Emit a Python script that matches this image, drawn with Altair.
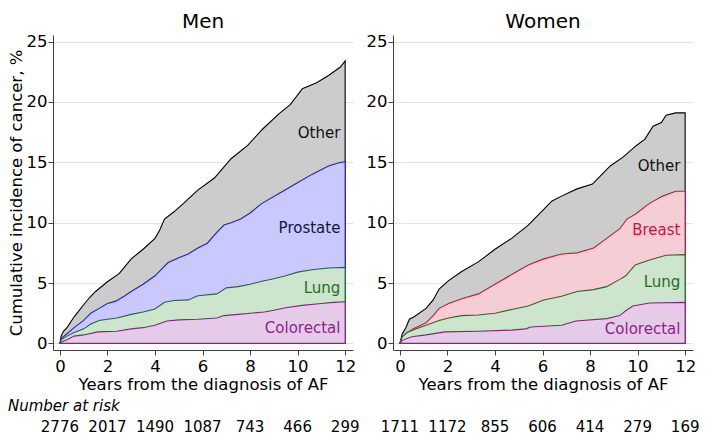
import altair as alt
import pandas as pd

F = "DejaVu Sans"

# ---------------- data (cumulative incidence, %; stacked upper boundaries) ----------------
men_other_t = [0, 0.05, 0.15, 0.3, 0.6, 1.0, 1.25, 1.5, 2.0, 2.5, 3.0, 3.5, 4.0, 4.2, 4.4, 4.8, 5.2, 5.8, 6.5, 7.2, 7.9, 8.5, 9.2, 9.7, 10.2, 10.8, 11.3, 11.8, 12.0]
men_other_v = [0, 0.6, 1.0, 1.3, 2.2, 3.2, 3.8, 4.3, 5.1, 5.8, 7.0, 7.8, 8.7, 9.4, 10.3, 10.9, 11.6, 12.7, 13.7, 15.3, 16.4, 17.7, 19.0, 19.8, 21.1, 21.6, 22.2, 22.9, 23.4]

men_prostate_t = [0, 0.05, 0.3, 0.6, 1.0, 1.3, 1.65, 2.0, 2.35, 2.7, 3.0, 3.5, 4.0, 4.3, 4.55, 5.0, 5.4, 5.8, 6.2, 6.6, 6.9, 7.2, 7.6, 8.0, 8.5, 9.2, 9.9, 10.6, 11.3, 11.7, 12.0]
men_prostate_v = [0, 0.4, 0.8, 1.3, 1.9, 2.5, 2.9, 3.3, 3.5, 3.9, 4.3, 4.9, 5.6, 6.2, 6.7, 7.1, 7.4, 7.9, 8.3, 9.2, 9.8, 10.0, 10.3, 10.8, 11.6, 12.4, 13.2, 14.0, 14.7, 14.95, 15.05]

men_lung_t = [0, 0.05, 0.3, 0.6, 1.0, 1.3, 1.65, 2.0, 2.4, 3.0, 3.5, 4.0, 4.4, 4.8, 5.4, 5.8, 6.6, 7.0, 7.5, 8.0, 8.5, 9.0, 9.5, 10.0, 10.6, 11.3, 12.0]
men_lung_v = [0, 0.3, 0.6, 0.9, 1.2, 1.6, 1.9, 2.0, 2.1, 2.4, 2.6, 2.85, 3.4, 3.55, 3.6, 3.95, 4.1, 4.6, 4.7, 4.9, 5.15, 5.35, 5.6, 5.9, 6.1, 6.25, 6.3]

men_colo_t = [0, 0.1, 0.3, 0.6, 1.0, 1.6, 2.4, 3.0, 3.5, 4.0, 4.5, 5.0, 5.8, 6.6, 6.9, 7.5, 8.0, 8.6, 9.0, 9.5, 10.2, 11.0, 11.5, 12.0]
men_colo_v = [0, 0.15, 0.3, 0.6, 0.7, 0.95, 1.0, 1.2, 1.3, 1.5, 1.85, 1.95, 2.0, 2.1, 2.3, 2.4, 2.5, 2.6, 2.75, 2.95, 3.15, 3.3, 3.4, 3.45]

women_other_t = [0, 0.1, 0.25, 0.4, 0.6, 1.1, 1.4, 1.65, 2.05, 2.6, 3.3, 4.0, 4.7, 5.4, 6.0, 6.4, 6.8, 7.45, 8.1, 8.5, 8.85, 9.4, 9.95, 10.3, 10.65, 11.0, 11.2, 11.6, 12.0]
women_other_v = [0, 0.8, 1.3, 2.0, 2.2, 2.9, 3.6, 4.5, 5.2, 5.95, 6.75, 7.8, 8.7, 9.8, 11.0, 11.8, 12.2, 12.8, 13.2, 14.0, 14.7, 15.45, 16.4, 16.9, 18.0, 18.3, 18.9, 19.1, 19.1]

women_breast_t = [0, 0.1, 0.25, 0.55, 1.1, 1.4, 1.65, 2.05, 2.6, 3.3, 4.0, 4.7, 5.4, 6.05, 6.8, 7.45, 8.15, 8.7, 9.25, 9.55, 9.9, 10.5, 11.05, 11.6, 12.0]
women_breast_v = [0, 0.5, 0.8, 1.2, 1.7, 2.3, 2.9, 3.3, 3.7, 4.1, 4.9, 5.7, 6.5, 7.0, 7.4, 7.5, 7.9, 8.7, 9.5, 10.3, 10.7, 11.6, 12.2, 12.6, 12.6]

women_lung_t = [0, 0.1, 0.3, 0.55, 1.1, 1.65, 2.05, 2.6, 3.3, 4.0, 4.7, 5.4, 6.05, 6.8, 7.45, 8.15, 8.7, 9.25, 9.5, 9.9, 10.5, 11.2, 12.0]
women_lung_v = [0, 0.55, 0.9, 1.1, 1.5, 1.9, 2.1, 2.3, 2.35, 2.5, 2.8, 3.1, 3.6, 3.9, 4.3, 4.45, 4.7, 5.3, 5.6, 6.5, 6.9, 7.3, 7.35]

women_colo_t = [0, 0.1, 0.5, 1.1, 1.9, 3.3, 4.7, 5.3, 5.5, 6.8, 7.4, 8.7, 9.25, 9.5, 9.8, 10.5, 12.0]
women_colo_v = [0, 0.25, 0.55, 0.7, 0.95, 1.0, 1.1, 1.2, 1.35, 1.5, 1.85, 2.05, 2.3, 2.7, 3.1, 3.35, 3.4]

risk_years = [0, 2, 4, 6, 8, 10, 12]
men_at_risk = [2776, 2017, 1490, 1087, 743, 466, 299]
women_at_risk = [1711, 1172, 855, 606, 414, 279, 169]

men_labels = ["Other", "Prostate", "Lung", "Colorectal"]
men_label_y = [17.4, 9.6, 4.6, 1.27]
women_labels = ["Other", "Breast", "Lung", "Colorectal"]
women_label_y = [14.66, 9.4, 5.1, 1.2]

# ---------------- styles ----------------
STYLE = {
    "Other": ("#cccccc", "#000000", "#111111"),
    "Prostate": ("#c9c9ff", "#1c1ce0", "#15153d"),
    "Breast": ("#f4cdd5", "#c8163c", "#c8163c"),
    "Lung": ("#cde4cd", "#1f6e1f", "#1f6e1f"),
    "Colorectal": ("#e6cbe8", "#8b1f8b", "#8b1f8b"),
}

W, H = 300, 315
x_scale = alt.Scale(domain=[-0.29, 12.33], nice=False, zero=False)
y_scale = alt.Scale(domain=[-0.55, 25.55], nice=False, zero=False)


def x_axis():
    return alt.Axis(values=risk_years, title="Years from the diagnosis of AF", grid=False,
                    tickSize=5, labelPadding=3, titlePadding=2, labelFontSize=16.5,
                    titleFontSize=16.5, labelFont=F, titleFont=F, titleFontWeight="normal",
                    domainColor="#404040", tickColor="#404040", labelColor="black",
                    titleColor="black", labelFlush=False)


def y_axis(with_title):
    kw = dict(values=[0, 5, 10, 15, 20, 25], grid=True, gridColor="#e4e4e4", tickSize=5,
              labelPadding=1, labelFontSize=16.5, labelFont=F, domainColor="#404040",
              tickColor="#404040", labelColor="black")
    if with_title:
        kw.update(title="Cumulative incidence of cancer, %", titlePadding=2, titleFontSize=16.5,
                  titleFont=F, titleFontWeight="normal", titleColor="black")
    else:
        kw.update(title=None)
    return alt.Axis(**kw)


def panel(title, series, labels, label_y, at_risk, first):
    layers = []
    for name, ts, vs in series:
        fill, stroke, _ = STYLE[name]
        df = pd.DataFrame({"t": ts, "v": vs})
        layers.append(
            alt.Chart(df).mark_area(fill=fill, stroke=stroke, strokeWidth=1.1,
                                    interpolate="linear", fillOpacity=1)
            .encode(x=alt.X("t:Q", scale=x_scale, axis=x_axis()),
                    y=alt.Y("v:Q", scale=y_scale, axis=y_axis(first)))
        )
    lab = pd.DataFrame({"label": labels, "y": label_y, "t": [11.8] * len(labels),
                        "c": [STYLE[l][2] for l in labels]})
    layers.append(
        alt.Chart(lab).mark_text(align="right", baseline="middle", font=F, fontSize=15)
        .encode(x=alt.X("t:Q", scale=x_scale, axis=x_axis()),
                y=alt.Y("y:Q", scale=y_scale, axis=y_axis(first)),
                text="label:N", color=alt.Color("c:N", scale=None))
    )
    risk = pd.DataFrame({"t": risk_years, "n": at_risk})
    layers.append(
        alt.Chart(risk).mark_text(align="center", baseline="alphabetic", font=F, fontSize=15,
                                  color="black")
        .encode(x=alt.X("t:Q", scale=x_scale, axis=x_axis()), y=alt.value(397), text="n:N")
    )
    if first:
        layers.append(
            alt.Chart(pd.DataFrame({"s": ["Number at risk"]}))
            .mark_text(align="left", baseline="alphabetic", font=F, fontSize=15,
                       fontStyle="italic", color="black")
            .encode(x=alt.value(-45), y=alt.value(376), text="s:N")
        )
    return alt.layer(*layers).properties(
        width=W, height=H,
        title=alt.TitleParams(text=title, fontSize=20, font=F, fontWeight="normal",
                              offset=2, anchor="middle", color="black"))


men = panel("Men",
            [("Other", men_other_t, men_other_v), ("Prostate", men_prostate_t, men_prostate_v),
             ("Lung", men_lung_t, men_lung_v), ("Colorectal", men_colo_t, men_colo_v)],
            men_labels, men_label_y, men_at_risk, True)
women = panel("Women",
              [("Other", women_other_t, women_other_v), ("Breast", women_breast_t, women_breast_v),
               ("Lung", women_lung_t, women_lung_v), ("Colorectal", women_colo_t, women_colo_v)],
              women_labels, women_label_y, women_at_risk, False)

chart = alt.hconcat(men, women, spacing=6).properties(
    padding={"left": 0, "top": 3, "right": 0, "bottom": 0}, background="white"
).configure_view(stroke=None)

chart.save("out.html", embed_options={"renderer": "svg", "actions": False})
